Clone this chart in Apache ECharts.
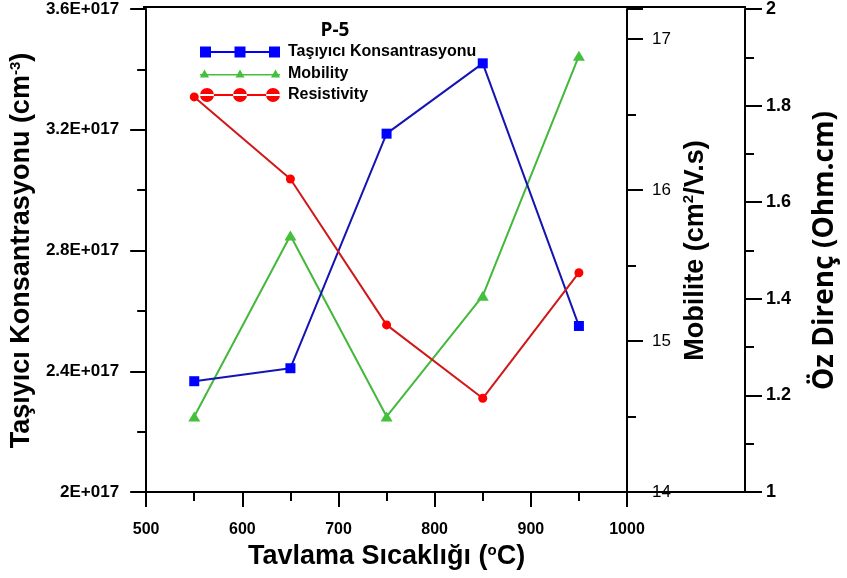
<!DOCTYPE html>
<html>
<head>
<meta charset="utf-8">
<title>P-5</title>
<script src="https://cdn.jsdelivr.net/npm/echarts@6/dist/echarts.min.js"></script>
<style>
  html, body { margin: 0; padding: 0; background: #fff; overflow: hidden; }
  #chart { width: 847px; height: 578px; }
</style>
</head>
<body>
<div id="chart"></div>
<script>
// Annealing temperatures (°C)
const temperatures = [550, 650, 750, 850, 950];
// Carrier concentration (cm^-3)
const carrierConc = [2.367e17, 2.41e17, 3.187e17, 3.42e17, 2.55e17];
// Mobility (cm^2/V.s)
const mobility = [14.50, 15.70, 14.50, 15.30, 16.89];
// Resistivity (Ohm.cm)
const resistivity = [1.818, 1.648, 1.346, 1.194, 1.454];

const seriesNames = ['Taşıyıcı Konsantrasyonu', 'Mobility', 'Resistivity'];
const xTicks = [500, 600, 700, 800, 900, 1000];

const pairs = (ys) => temperatures.map((t, i) => [t, ys[i]]);

// plot frame
const G = { left: 144, top: 7, width: 483, height: 485 };
const plotR = G.left + G.width;   // x of the mobility axis
const plotB = G.top + G.height;   // y of the bottom axis
const thirdOffset = 118;          // resistivity axis offset from plot edge

const black = '#000';
const axisLineStyle = { lineStyle: { color: black, width: 2 } };
const sciLabel = (v) => {
  const m = +(v / 1e17).toFixed(1);
  return m + 'E+017';
};
const supStyle = (size, pad) => ({
  fontFamily: 'Liberation Sans', fontSize: size, fontWeight: 'bold', color: black,
  verticalAlign: 'top', padding: [0, 0, pad, 0]
});

const chart = echarts.init(document.getElementById('chart'), null, { renderer: 'canvas' });

chart.setOption({
  backgroundColor: '#fff',
  animation: false,
  title: {
    text: 'P-5',
    left: 330,
    top: 16,
    textAlign: 'center',
    textStyle: { fontFamily: 'Open Sans', fontWeight: 'bold', fontSize: 19, color: black }
  },
  legend: {
    left: 200,
    top: 44,
    orient: 'vertical',
    itemWidth: 80,
    itemHeight: 14,
    itemGap: 5.5,
    padding: 0,
    textStyle: { fontFamily: 'Liberation Sans', fontWeight: 'bold', fontSize: 16, color: black, padding: [0, 0, 0, 3] },
    data: [
      { name: seriesNames[0], icon: 'path://M0,4.5H80V6.5H0Z M0,0H11V11H0Z M34.5,0H45.5V11H34.5Z M69,0H80V11H69Z', itemStyle: { color: '#0000ff' } },
      { name: seriesNames[1], icon: 'path://M0,4.5H80V6H0Z M0,8L4.5,0L9,8Z M35.5,8L40,0L44.5,8Z M71,8L75.5,0L80,8Z', itemStyle: { color: '#44c03c' } },
      { name: seriesNames[2], icon: 'path://M0,6H80V8H0Z M0,7a7,7 0 1,0 14,0a7,7 0 1,0 -14,0Z M33,7a7,7 0 1,0 14,0a7,7 0 1,0 -14,0Z M66,7a7,7 0 1,0 14,0a7,7 0 1,0 -14,0Z', itemStyle: { color: '#ff0000' } }
    ]
  },
  grid: { left: G.left, top: G.top, width: G.width, height: G.height, containLabel: false },
  xAxis: {
    type: 'value',
    min: xTicks[0],
    max: xTicks[xTicks.length - 1],
    interval: 100,
    name: 'Tavlama Sıcaklığı ({sup|o}C)',
    nameLocation: 'middle',
    nameGap: 41,
    nameTextStyle: {
      fontFamily: 'Liberation Sans', fontWeight: 'bold', fontSize: 27, color: black,
      rich: { sup: supStyle(15, 12) }
    },
    axisLine: { show: true, ...axisLineStyle },
    axisTick: { show: true, inside: false, length: 15, lineStyle: { color: black, width: 2 } },
    minorTick: { show: true, splitNumber: 2, length: 9, lineStyle: { color: black, width: 2 } },
    axisLabel: {
      margin: 30, fontFamily: 'Liberation Sans', fontWeight: 'bold', fontSize: 16, color: black,
      formatter: (v) => String(v)
    },
    splitLine: { show: false }
  },
  yAxis: [
    {
      type: 'value',
      position: 'left',
      min: 2e17,
      max: 3.6e17,
      interval: 0.4e17,
      name: 'Taşıyıcı Konsantrasyonu (cm{sup|-3})',
      nameLocation: 'middle',
      nameRotate: 90,
      nameGap: 100,
      nameTextStyle: {
        fontFamily: 'Liberation Sans', fontWeight: 'bold', fontSize: 27, color: black,
        rich: { sup: supStyle(15, 12) }
      },
      axisLine: { show: true, ...axisLineStyle },
      axisTick: { show: true, length: 16, lineStyle: { color: black, width: 2 } },
      minorTick: { show: true, splitNumber: 2, length: 9, lineStyle: { color: black, width: 2 } },
      axisLabel: { margin: 27, formatter: sciLabel, fontFamily: 'Liberation Sans', fontWeight: 'bold', fontSize: 17, color: black },
      splitLine: { show: false }
    },
    {
      type: 'value',
      position: 'right',
      min: 14,
      max: 17.2,
      interval: 1,
      name: 'Mobilite (cm{sup|2}/V.s)',
      nameLocation: 'middle',
      nameRotate: 90,
      nameGap: 50,
      nameTextStyle: {
        fontFamily: 'Liberation Sans', fontWeight: 'bold', fontSize: 27, color: black,
        rich: { sup: supStyle(15, 12) }
      },
      axisLine: { show: true, ...axisLineStyle },
      axisTick: { show: true, length: 16, lineStyle: { color: black, width: 2 } },
      axisLabel: {
        margin: 25, fontFamily: 'Liberation Sans', fontSize: 17, color: black,
        formatter: (v) => (Number.isInteger(v) ? String(v) : '')
      },
      splitLine: { show: false }
    },
    {
      type: 'value',
      position: 'right',
      offset: thirdOffset,
      min: 1,
      max: 2,
      interval: 0.2,
      name: 'Öz Direnç (Ohm.cm)',
      nameLocation: 'middle',
      nameRotate: 90,
      nameGap: 66,
      nameTextStyle: { fontFamily: 'Open Sans', fontWeight: 'bold', fontSize: 28, color: black },
      axisLine: { show: true, ...axisLineStyle },
      axisTick: { show: true, length: 17, lineStyle: { color: black, width: 2 } },
      minorTick: { show: true, splitNumber: 2, length: 9, lineStyle: { color: black, width: 2 } },
      axisLabel: {
        margin: 21, fontFamily: 'Liberation Sans', fontWeight: 'bold', fontSize: 18, color: black,
        formatter: (v) => String(+v.toFixed(1))
      },
      splitLine: { show: false }
    },
    {
      // half-step minor ticks of the mobility scale
      type: 'value',
      position: 'right',
      min: 14,
      max: 17.2,
      interval: 0.5,
      axisLine: { show: false },
      axisTick: { show: true, length: 9, lineStyle: { color: black, width: 2 } },
      axisLabel: { show: false },
      splitLine: { show: false }
    }
  ],
  graphic: [
    // top frame line across to the resistivity axis
    { type: 'line', silent: true, z: 10,
      shape: { x1: G.left - 1, y1: G.top, x2: plotR + thirdOffset + 1, y2: G.top },
      style: { stroke: black, lineWidth: 2 } },
    // bottom line continued to the resistivity axis
    { type: 'line', silent: true, z: 10,
      shape: { x1: plotR, y1: plotB, x2: plotR + thirdOffset + 1, y2: plotB },
      style: { stroke: black, lineWidth: 2 } }
  ],
  series: [
    {
      name: seriesNames[0],
      type: 'line',
      yAxisIndex: 0,
      data: pairs(carrierConc),
      symbol: 'rect',
      symbolSize: 10,
      lineStyle: { color: '#1414b4', width: 2 },
      itemStyle: { color: '#0000ff' },
      z: 3
    },
    {
      name: seriesNames[1],
      type: 'line',
      yAxisIndex: 1,
      data: pairs(mobility),
      symbol: 'triangle',
      symbolSize: [12, 10],
      lineStyle: { color: '#44b83c', width: 2 },
      itemStyle: { color: '#44c03c' },
      z: 2
    },
    {
      name: seriesNames[2],
      type: 'line',
      yAxisIndex: 2,
      data: pairs(resistivity),
      symbol: 'circle',
      symbolSize: 9,
      lineStyle: { color: '#d01818', width: 2 },
      itemStyle: { color: '#ff0000' },
      z: 4
    }
  ]
});
</script>
</body>
</html>
